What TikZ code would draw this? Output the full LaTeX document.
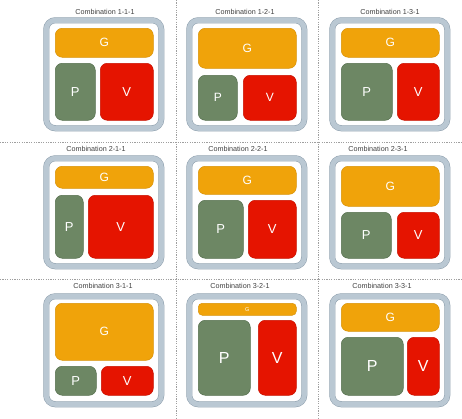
\documentclass[tikz,border=0pt]{standalone}
\usepackage{fontspec}
\setmainfont{Liberation Sans}
\usetikzlibrary{shadows}
\definecolor{gorange}{HTML}{F0A30A}
\definecolor{gorangedark}{HTML}{D89208}
\definecolor{pgreen}{HTML}{6D8764}
\definecolor{pgreendark}{HTML}{56704E}
\definecolor{vred}{HTML}{E51400}
\definecolor{vreddark}{HTML}{C81100}
\definecolor{framelight}{HTML}{BAC8D3}
\definecolor{framedark}{HTML}{8E9FAD}
\tikzset{every picture/.style={line width=0.5pt},
  sep/.style={gray!75, dash pattern=on 1.2pt off 1.2pt, line width=0.6pt},
  title/.style={font=\fontsize{7.2}{8}\selectfont, text=black!75},
  frame/.style={anchor=north west, inner sep=0pt, draw=framedark, double=framelight,
    double distance=5pt, fill=white, rounded corners=9pt,
    minimum width=115pt, minimum height=108pt,
    drop shadow={opacity=0.25, shadow xshift=1pt, shadow yshift=-1.5pt}},
  part/.style={anchor=north west, inner sep=0pt, rounded corners=7pt, text=white,
    font=\fontsize{13}{13}\selectfont},
  gbox/.style={part, fill=gorange, draw=gorangedark, font=\fontsize{12}{12}\selectfont},
  pbox/.style={part, fill=pgreen, draw=pgreendark},
  vbox/.style={part, fill=vred, draw=vreddark}}

\begin{document}
\begin{tikzpicture}[x=1pt, y=-1pt]
    \useasboundingbox (0,0) rectangle (462,418);
    % Trennlinien
    \draw[sep] (176,0) -- (176,418);
    \draw[sep] (318,0) -- (318,418);
    \draw[sep] (0,142) -- (462,142);
    \draw[sep] (0,279) -- (462,279);
    % Combination 1-1-1
    \node[title] (t111) at (105,12) {Combination 1-1-1};
    \node[frame] (f111) at (46,20) {};
    \node[gbox, minimum width=98pt, minimum height=29pt] (g111) at (55,28) {G};
    \node[pbox, minimum width=40pt, minimum height=57pt] (p111) at (55,63) {P};
    \node[vbox, minimum width=53pt, minimum height=57pt] (v111) at (100,63) {V};
    % Combination 1-2-1
    \node[title] (t121) at (245,12) {Combination 1-2-1};
    \node[frame] (f121) at (189,20) {};
    \node[gbox, minimum width=98pt, minimum height=40pt] (g121) at (198,28) {G};
    \node[pbox, minimum width=39pt, minimum height=45pt, font=\fontsize{12}{12}\selectfont] (p121) at (198,75) {P};
    \node[vbox, minimum width=53pt, minimum height=45pt, font=\fontsize{12}{12}\selectfont] (v121) at (243,75) {V};
    % Combination 1-3-1
    \node[title] (t131) at (390,12) {Combination 1-3-1};
    \node[frame] (f131) at (332,20) {};
    \node[gbox, minimum width=98pt, minimum height=29pt] (g131) at (341,28) {G};
    \node[pbox, minimum width=51pt, minimum height=57pt] (p131) at (341,63) {P};
    \node[vbox, minimum width=42pt, minimum height=57pt] (v131) at (397,63) {V};
    % Combination 2-1-1
    \node[title] (t211) at (96,149) {Combination 2-1-1};
    \node[frame] (f211) at (46,158) {};
    \node[gbox, minimum width=98pt, minimum height=22pt] (g211) at (55,166) {G};
    \node[pbox, minimum width=28pt, minimum height=63pt] (p211) at (55,195) {P};
    \node[vbox, minimum width=65pt, minimum height=63pt] (v211) at (88,195) {V};
    % Combination 2-2-1
    \node[title] (t221) at (238,149) {Combination 2-2-1};
    \node[frame] (f221) at (189,158) {};
    \node[gbox, minimum width=98pt, minimum height=28pt] (g221) at (198,166) {G};
    \node[pbox, minimum width=45pt, minimum height=58pt] (p221) at (198,200) {P};
    \node[vbox, minimum width=48pt, minimum height=58pt] (v221) at (248,200) {V};
    % Combination 2-3-1
    \node[title] (t231) at (378,149) {Combination 2-3-1};
    \node[frame] (f231) at (332,158) {};
    \node[gbox, minimum width=98pt, minimum height=40pt] (g231) at (341,166) {G};
    \node[pbox, minimum width=50pt, minimum height=46pt] (p231) at (341,212) {P};
    \node[vbox, minimum width=42pt, minimum height=46pt] (v231) at (397,212) {V};
    % Combination 3-1-1
    \node[title] (t311) at (103,286) {Combination 3-1-1};
    \node[frame] (f311) at (46,296) {};
    \node[gbox, minimum width=98pt, minimum height=57pt] (g311) at (55,303) {G};
    \node[pbox, minimum width=41pt, minimum height=29pt] (p311) at (55,366) {P};
    \node[vbox, minimum width=52pt, minimum height=29pt] (v311) at (101,366) {V};
    % Combination 3-2-1
    \node[title] (t321) at (240,286) {Combination 3-2-1};
    \node[frame] (f321) at (189,296) {};
    \node[gbox, minimum width=98pt, minimum height=12pt, rounded corners=4pt,
          font=\fontsize{5.5}{5.5}\selectfont] (g321) at (198,303) {G};
    \node[pbox, minimum width=52pt, minimum height=75pt, font=\fontsize{16}{16}\selectfont] (p321) at (198,320) {P};
    \node[vbox, minimum width=38pt, minimum height=75pt, font=\fontsize{16}{16}\selectfont] (v321) at (258,320) {V};
    % Combination 3-3-1
    \node[title] (t331) at (382,286) {Combination 3-3-1};
    \node[frame] (f331) at (332,296) {};
    \node[gbox, minimum width=98pt, minimum height=28pt] (g331) at (341,303) {G};
    \node[pbox, minimum width=62pt, minimum height=58pt, font=\fontsize{16}{16}\selectfont] (p331) at (341,337) {P};
    \node[vbox, minimum width=32pt, minimum height=58pt, font=\fontsize{16}{16}\selectfont] (v331) at (407,337) {V};
\end{tikzpicture}
\end{document}
